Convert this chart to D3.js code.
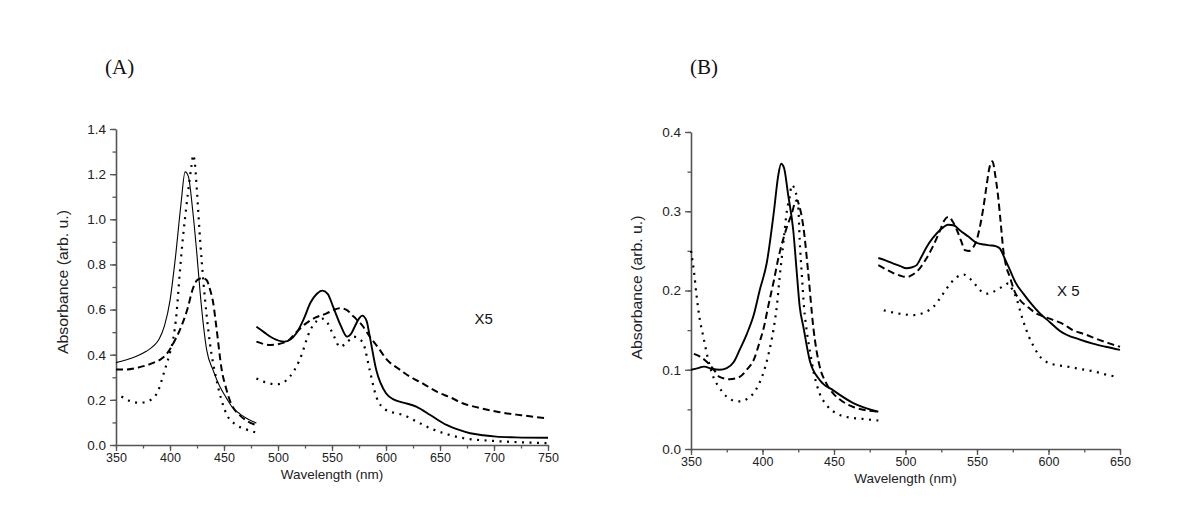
<!DOCTYPE html>
<html><head><meta charset="utf-8">
<script src="https://cdn.jsdelivr.net/npm/d3@7/dist/d3.min.js"></script>
<style>
body{margin:0;background:#fff;}
svg{display:block;}
.tick text{font-family:"Liberation Sans",Arial,sans-serif;fill:#222;}
</style></head>
<body><svg id="c" width="1200" height="512"></svg>
<script>
// ---------- Panel A data ----------
const aSolidL_wl  = [350,360,370,378,385,390,395,400,405,410,414,417,421,425,428,434,440,446,452,458,465,472,480];
const aSolidL_abs = [0.365,0.378,0.395,0.415,0.44,0.47,0.53,0.64,0.83,1.06,1.21,1.19,1.04,0.84,0.67,0.42,0.33,0.26,0.21,0.165,0.137,0.115,0.097];
const aDashL_wl   = [350,360,372,385,393,398,403,410,416,421,425,430,434,437,440,443,448,452,456,465,472,480];
const aDashL_abs  = [0.335,0.335,0.345,0.365,0.385,0.41,0.45,0.52,0.60,0.69,0.73,0.74,0.73,0.69,0.63,0.52,0.33,0.25,0.19,0.13,0.105,0.088];
const aDotL_wl    = [355,363,372,380,388,395,400,403,406,409,412,415,418,420,421.5,423,425,428,431,437,443,452,461,470,480];
const aDotL_abs   = [0.215,0.195,0.187,0.195,0.23,0.33,0.41,0.47,0.58,0.76,0.92,1.05,1.17,1.24,1.285,1.25,1.12,0.90,0.72,0.45,0.29,0.14,0.09,0.07,0.055];
const aSolidR_wl  = [480,487,495,506,517,524,530,536,541,546,551,558,564,568,571,575,578,582,585,591,600,608,616,628,641,656,667,678,690,702,720,750];
const aSolidR_abs = [0.524,0.50,0.474,0.458,0.495,0.56,0.63,0.67,0.684,0.67,0.613,0.53,0.48,0.495,0.524,0.56,0.573,0.55,0.48,0.332,0.229,0.20,0.188,0.17,0.133,0.089,0.068,0.052,0.043,0.037,0.034,0.032];
const aDashR_wl   = [480,493,508,517,526,535,545,551,557,563,570,578,585,593,601,611,622,635,647,660,671,686,702,725,750];
const aDashR_abs  = [0.458,0.443,0.458,0.50,0.539,0.565,0.583,0.597,0.606,0.60,0.569,0.53,0.48,0.43,0.377,0.34,0.303,0.27,0.236,0.21,0.185,0.165,0.148,0.132,0.118];
const aDotR_wl    = [480,490,499,511,520,530,536,541,546,549,553,557,563,570,575,579,585,591,600,608,616,628,641,655,672,700,725,750];
const aDotR_abs   = [0.295,0.275,0.269,0.303,0.377,0.51,0.55,0.56,0.54,0.51,0.47,0.435,0.45,0.48,0.47,0.45,0.33,0.214,0.155,0.142,0.133,0.105,0.074,0.05,0.03,0.018,0.012,0.008];
const aXTicks = [350,400,450,500,550,600,650,700,750];
const aYTicks = [0.0,0.2,0.4,0.6,0.8,1.0,1.2,1.4];

// ---------- Panel B data ----------
const bSolidL_wl  = [350,355,359,365,370,375,380,384,389,394,398,403,408,411,413,415,418,421.5,424,426,428.6,433,440,449.5,463.5,481];
const bSolidL_abs = [0.10,0.102,0.104,0.101,0.10,0.102,0.11,0.125,0.145,0.17,0.2,0.235,0.30,0.345,0.36,0.355,0.32,0.276,0.222,0.18,0.154,0.112,0.087,0.074,0.058,0.047];
const bDashL_wl   = [352,356,361,366,370,377,384,389,394,398,401,404,408,411,415,418,420.5,422.5,424,426,428.6,432,435.5,440,444,449.5,456,463.5,481];
const bDashL_abs  = [0.12,0.117,0.11,0.10,0.091,0.088,0.091,0.10,0.113,0.135,0.154,0.18,0.213,0.24,0.268,0.285,0.297,0.31,0.314,0.305,0.28,0.222,0.154,0.104,0.085,0.07,0.06,0.053,0.047];
const bDotL_wl    = [350,352,354,356,358.6,362,365.6,370,375,380,384.3,389,393.6,397,400.6,404,407.6,410,412,414,415.5,417,419,420.4,423,425,426,427.5,429,431,433.5,436,440,445,451.6,460,470,481];
const bDotL_abs   = [0.25,0.225,0.192,0.165,0.142,0.113,0.091,0.077,0.066,0.061,0.06,0.063,0.07,0.08,0.096,0.118,0.15,0.18,0.217,0.25,0.276,0.30,0.318,0.333,0.325,0.306,0.264,0.22,0.18,0.148,0.12,0.095,0.07,0.055,0.045,0.04,0.038,0.036];
const bSolidR_wl  = [481,486,491.5,496,500.8,504,507.8,511,514.8,519,524,530,534,538,544,549.8,555,559,563,566,569.5,573,577,582.4,588,594,601,608,622,631,640,650];
const bSolidR_abs = [0.241,0.238,0.234,0.231,0.228,0.229,0.232,0.242,0.255,0.266,0.276,0.283,0.282,0.276,0.268,0.26,0.258,0.257,0.256,0.253,0.24,0.226,0.21,0.196,0.183,0.171,0.16,0.149,0.138,0.133,0.129,0.125];
const bDashR_wl   = [481,486,491.5,496,500.8,505,510,514.5,519,524,527,530,533,536,539,541.6,544.5,547.5,550,552,554.5,556.6,558.7,560.8,562.8,564.8,566.6,568.4,570.5,573,576,580,585,591.5,597,603,610,617,625,635,643,650];
const bDashR_abs  = [0.232,0.227,0.222,0.219,0.217,0.22,0.228,0.24,0.255,0.275,0.288,0.293,0.287,0.276,0.262,0.251,0.25,0.255,0.265,0.28,0.305,0.331,0.355,0.363,0.345,0.318,0.285,0.251,0.23,0.217,0.2,0.188,0.18,0.171,0.167,0.163,0.158,0.15,0.145,0.138,0.133,0.129];
const bDotR_wl    = [484.8,495,505.8,513,519.8,526,531.5,536,540.8,545,550,553,557,561,566,569,572,575,578,580.5,582.8,586,589.8,593,596.8,603,613,622,631.5,640,647.8];
const bDotR_abs   = [0.175,0.171,0.169,0.172,0.18,0.195,0.209,0.217,0.22,0.215,0.205,0.199,0.196,0.198,0.203,0.206,0.209,0.20,0.188,0.172,0.159,0.143,0.129,0.119,0.112,0.107,0.104,0.101,0.098,0.094,0.091];
const bXTicks = [350,400,450,500,550,600,650];
const bYTicks = [0.0,0.1,0.2,0.3,0.4];

const svg = d3.select("#c");
const SANS = '"Liberation Sans",Arial,sans-serif';
const SERIF = '"Liberation Serif","Times New Roman",serif';
const AX = "#555";

function zip(w,a){return w.map((d,i)=>[d,a[i]]);}

const styles = {
  solidThin:{w:1.1,dash:null},
  solid:{w:1.9,dash:null},
  dash:{w:2,dash:"7,4"},
  dot:{w:2.2,dash:"2,5.5"}
};

function panel(cfg){
  const x = d3.scaleLinear().domain(cfg.xd).range(cfg.xr);
  const y = d3.scaleLinear().domain(cfg.yd).range(cfg.yr);
  const g = svg.append("g");
  const xMinor = d3.range(cfg.xd[0], cfg.xd[1]+0.001, cfg.xMinor);
  const yMinor = d3.range(cfg.yd[0], cfg.yd[1]+1e-9, cfg.yMinor);
  g.append("g").attr("transform",`translate(0,${cfg.yr[0]})`)
    .call(d3.axisBottom(x).tickValues(xMinor).tickSize(3.5).tickFormat(""))
    .call(s=>{s.select(".domain").remove(); s.selectAll("line").attr("stroke",AX).attr("stroke-width",1.3);});
  g.append("g").attr("transform",`translate(${cfg.xr[0]},0)`)
    .call(d3.axisLeft(y).tickValues(yMinor).tickSize(3.5).tickFormat(""))
    .call(s=>{s.select(".domain").remove(); s.selectAll("line").attr("stroke",AX).attr("stroke-width",1.3);});
  const xa = g.append("g").attr("transform",`translate(0,${cfg.yr[0]})`)
    .call(d3.axisBottom(x).tickValues(cfg.xTicks).tickSize(6).tickSizeOuter(0).tickPadding(2).tickFormat(d3.format("d")));
  xa.select(".domain").attr("stroke",AX).attr("stroke-width",1.6);
  xa.selectAll(".tick line").attr("stroke",AX).attr("stroke-width",1.3);
  xa.selectAll(".tick text").attr("font-size",12.5);
  const ya = g.append("g").attr("transform",`translate(${cfg.xr[0]},0)`)
    .call(d3.axisLeft(y).tickValues(cfg.yTicks).tickSize(6).tickSizeOuter(0).tickPadding(4).tickFormat(d3.format(".1f")));
  ya.select(".domain").attr("stroke",AX).attr("stroke-width",1.6);
  ya.selectAll(".tick line").attr("stroke",AX).attr("stroke-width",1.3);
  ya.selectAll(".tick text").attr("font-size",13.5);

  const line = d3.line().x(d=>x(d[0])).y(d=>y(d[1])).curve(d3.curveMonotoneX);
  cfg.series.forEach(s=>{
    const st = styles[s.style];
    g.append("path").datum(zip(s.wl,s.abs)).attr("d",line)
      .attr("fill","none").attr("stroke","#000").attr("stroke-width",st.w)
      .attr("stroke-dasharray",st.dash).attr("stroke-linejoin","round");
  });
  const cx = (cfg.xr[0]+cfg.xr[1])/2;
  g.append("text").attr("x",cx).attr("y",cfg.yr[0]+34).attr("text-anchor","middle")
    .attr("font-family",SANS).attr("font-size",13.5).attr("fill","#222").text("Wavelength (nm)");
  const cy = (cfg.yr[0]+cfg.yr[1])/2 + cfg.ylabDy;
  g.append("text").attr("transform",`translate(${cfg.ylabX},${cy}) rotate(-90)`).attr("text-anchor","middle")
    .attr("font-family",SANS).attr("font-size",15).attr("fill","#222")
    .attr("textLength",144).attr("lengthAdjust","spacingAndGlyphs").text("Absorbance (arb. u.)");
  g.append("text").attr("x",cfg.tag[0]).attr("y",cfg.tag[1]).attr("font-family",SERIF)
    .attr("font-size",21).attr("fill","#111").text(cfg.tagText);
  g.append("text").attr("x",x(cfg.mult[0])).attr("y",y(cfg.mult[1])).attr("font-family",SANS)
    .attr("font-size",15).attr("fill","#111").text(cfg.multText);
}

panel({
  xd:[350,750], xr:[116,548], yd:[0,1.4], yr:[445,129],
  xTicks:aXTicks, yTicks:aYTicks, xMinor:25, yMinor:0.1,
  ylabX:68, ylabDy:-5, tag:[105,74], tagText:"(A)", mult:[682,0.535], multText:"X5",
  series:[
    {wl:aSolidL_wl,abs:aSolidL_abs,style:"solidThin"},
    {wl:aDashL_wl,abs:aDashL_abs,style:"dash"},
    {wl:aDotL_wl,abs:aDotL_abs,style:"dot"},
    {wl:aSolidR_wl,abs:aSolidR_abs,style:"solid"},
    {wl:aDashR_wl,abs:aDashR_abs,style:"dash"},
    {wl:aDotR_wl,abs:aDotR_abs,style:"dot"}
  ]
});
panel({
  xd:[350,650], xr:[691,1120], yd:[0,0.4], yr:[449,132],
  xTicks:bXTicks, yTicks:bYTicks, xMinor:25, yMinor:0.05,
  ylabX:642, ylabDy:-3, tag:[690,74], tagText:"(B)", mult:[606,0.193], multText:"X 5",
  series:[
    {wl:bSolidL_wl,abs:bSolidL_abs,style:"solid"},
    {wl:bDashL_wl,abs:bDashL_abs,style:"dash"},
    {wl:bDotL_wl,abs:bDotL_abs,style:"dot"},
    {wl:bSolidR_wl,abs:bSolidR_abs,style:"solid"},
    {wl:bDashR_wl,abs:bDashR_abs,style:"dash"},
    {wl:bDotR_wl,abs:bDotR_abs,style:"dot"}
  ]
});
</script></body></html>
